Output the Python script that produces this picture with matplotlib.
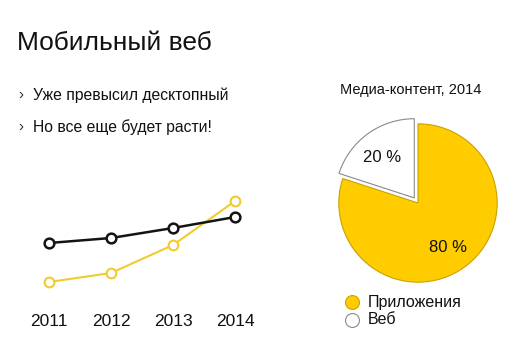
import matplotlib.pyplot as plt

plt.rcParams["font.family"] = ["Liberation Sans", "DejaVu Sans"]

W, H = 507, 357

years = ["2011", "2012", "2013", "2014"]
desktop = [57, 62, 72, 83]
mobile = [18, 27, 55, 99]

pie_labels = ["Веб", "Приложения"]
pie_values = [20, 80]
pie_text = ["20 %", "80 %"]

bullets = ["Уже превысил десктопный", "Но все еще будет расти!"]

BLACK = "#141414"
YELLOW = "#f2cb2c"
PIE_YELLOW = "#ffcc00"


def px_axes(fig, left, top, right, bottom):
    return fig.add_axes([left / W, 1 - bottom / H, (right - left) / W, (bottom - top) / H])


fig = plt.figure(figsize=(W / 100, H / 100), dpi=100)

fig.text(17 / W, 1 - 43 / H, "Мобильный веб", fontsize=19, color="#111111", va="center", ha="left")
for i, line in enumerate(bullets):
    y = 1 - (95 + 32 * i) / H
    fig.text(18 / W, y, "›", fontsize=11, color="#333333", va="center", ha="left")
    fig.text(33 / W, y, line, fontsize=11.3, color="#111111", va="center", ha="left")

# line chart
ax = px_axes(fig, 30, 190, 255, 300)
x = range(len(years))
ax.plot(x, desktop, color=BLACK, lw=1.8, marker="o", ms=7, mfc="white", mec=BLACK, mew=1.8, zorder=3)
ax.plot(x, mobile, color=YELLOW, lw=1.5, marker="o", ms=7, mfc="white", mec=YELLOW, mew=1.5, zorder=2)
ax.set_xlim(-0.306, 3.32)
ax.set_ylim(0, 110)
ax.set_xticks(list(x))
ax.set_xticklabels(years, fontsize=12.5, color="#111111")
ax.tick_params(axis="x", length=0, pad=10)
ax.set_yticks([])
for s in ax.spines.values():
    s.set_visible(False)
ax.patch.set_alpha(0)

# pie chart
fig.text(411 / W, 1 - 90 / H, "Медиа-контент, 2014", fontsize=10.5, color="#111111", ha="center", va="center")
pax = px_axes(fig, 323, 108, 513, 298)
wedges, _ = pax.pie(
    pie_values,
    colors=["white", PIE_YELLOW],
    startangle=90,
    counterclock=True,
    explode=[0.08, 0],
    radius=1,
    wedgeprops=dict(linewidth=0.8),
)
wedges[0].set_edgecolor("#8a8a8a")
wedges[1].set_edgecolor("#c9a200")
pax.set_xlim(-1.2, 1.2)
pax.set_ylim(-1.2, 1.2)
pax.set_aspect("equal")
pax.axis("off")
fig.text(382 / W, 1 - 157 / H, pie_text[0], fontsize=12, color="#111111", ha="center", va="center")
fig.text(448 / W, 1 - 247 / H, pie_text[1], fontsize=12, color="#111111", ha="center", va="center")

# legend
for i, (lab, fc, ec) in enumerate(zip(pie_labels[::-1], [PIE_YELLOW, "white"], ["#c9a200", "#8a8a8a"])):
    y = 1 - (302 + 18 * i) / H
    fig.lines.append(plt.Line2D([352 / W], [y], transform=fig.transFigure, marker="o", ms=10,
                                mfc=fc, mec=ec, mew=0.8, ls="none"))
    fig.text(368 / W, y, lab, fontsize=11.5, color="#111111", ha="left", va="center")

fig.savefig("out.png", dpi=100)
